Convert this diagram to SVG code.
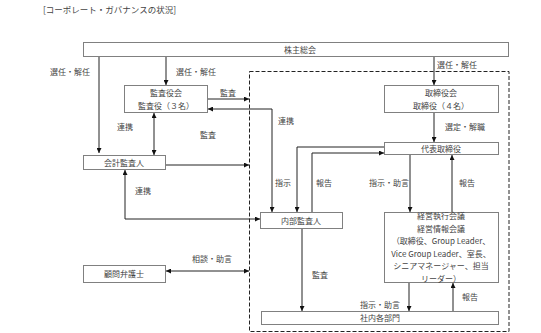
<svg xmlns="http://www.w3.org/2000/svg" width="541" height="333" viewBox="0 0 541 333">
<style>
text{font-family:"Noto Sans CJK JP","Liberation Sans",sans-serif;font-size:8px;fill:#444;}
.c{text-anchor:middle;}
.box{fill:#fff;stroke:#808080;stroke-width:1;}
.ln{fill:none;stroke:#222;stroke-width:1;}
.ea{marker-end:url(#ah);}
.sa{marker-start:url(#ahs);}
</style>
<defs>
<marker id="ah" viewBox="0 0 8 8" refX="8" refY="4" markerWidth="5" markerHeight="5" orient="auto" markerUnits="userSpaceOnUse"><path d="M0,0L8,4L0,8z" fill="#111"/></marker>
<marker id="ahs" viewBox="0 0 8 8" refX="0" refY="4" markerWidth="5" markerHeight="5" orient="auto" markerUnits="userSpaceOnUse"><path d="M8,0L0,4L8,8z" fill="#111"/></marker>
</defs>
<rect width="541" height="333" fill="#fff"/>
<text x="43" y="13" style="font-size:8.5px">[コーポレート・ガバナンスの状況]</text>

<rect x="249.5" y="71.5" width="259.5" height="260" fill="none" stroke="#222" stroke-width="1" stroke-dasharray="4,2"/>

<g id="connectors">
<path class="ln ea" d="M99,57V153"/>
<path class="ln ea" d="M166,57V85"/>
<path class="ln ea" d="M434,57V85"/>
<path class="ln ea" d="M434,113V142"/>
<path class="ln ea" d="M208,99H249"/>
<path class="ln ea sa" d="M208,109H272V212"/>
<path class="ln ea sa" d="M154,113V155"/>
<path class="ln ea" d="M166,165H249"/>
<path class="ln ea sa" d="M125,170V219H260"/>
<path class="ln ea" d="M384,147H297V212"/>
<path class="ln ea" d="M312,212V153H384"/>
<path class="ln ea" d="M410,155V212"/>
<path class="ln ea" d="M452,212V155"/>
<path class="ln ea sa" d="M166,271H249"/>
<path class="ln ea" d="M302,229V311"/>
<path class="ln ea" d="M409,283V311"/>
<path class="ln ea" d="M453,311V283"/>
</g>

<g id="labels">
<text x="50" y="75">選任・解任</text>
<text x="176" y="75">選任・解任</text>
<text x="437" y="68">選任・解任</text>
<text x="445" y="130">選定・解職</text>
<text x="220" y="96">監査</text>
<text x="278" y="124">連携</text>
<text x="117" y="130">連携</text>
<text x="200" y="138">監査</text>
<text x="135" y="194">連携</text>
<text x="275" y="186">指示</text>
<text x="316" y="186">報告</text>
<text x="369" y="186">指示・助言</text>
<text x="459" y="186">報告</text>
<text x="192" y="262">相談・助言</text>
<text x="312" y="278">監査</text>
<text x="360" y="308">指示・助言</text>
<text x="462" y="300">報告</text>
</g>

<g id="n-shareholders"><rect class="box" x="83.5" y="42.5" width="425" height="14"/><text class="c" x="300" y="52.5">株主総会</text></g>
<g id="n-kansayakukai"><rect class="box" x="124.5" y="85.5" width="83" height="27"/><text class="c" x="166" y="96">監査役会</text><text class="c" x="166" y="109">監査役（３名）</text></g>
<g id="n-torishimariyakukai"><rect class="box" x="384.5" y="85.5" width="114" height="27"/><text class="c" x="441" y="96">取締役会</text><text class="c" x="441" y="109">取締役（４名）</text></g>
<g id="n-daihyo"><rect class="box" x="384.5" y="142.5" width="114" height="12"/><text class="c" x="441" y="151.5">代表取締役</text></g>
<g id="n-kaikei"><rect class="box" x="83.5" y="155.5" width="82" height="14"/><text class="c" x="124" y="165.5">会計監査人</text></g>
<g id="n-naibu"><rect class="box" x="260.5" y="212.5" width="82" height="16"/><text class="c" x="301" y="223.5">内部監査人</text></g>
<g id="n-bengoshi"><rect class="box" x="83.5" y="265.5" width="82" height="17"/><text class="c" x="124" y="277">顧問弁護士</text></g>
<g id="n-keiei"><rect class="box" x="384.5" y="212.5" width="114" height="70"/>
<text class="c" x="441" y="219">経営執行会議</text>
<text class="c" x="441" y="231.5">経営情報会議</text>
<text class="c" x="441" y="244">（取締役、Group Leader、</text>
<text class="c" x="441" y="256.5">Vice Group Leader、室長、</text>
<text class="c" x="441" y="269">シニアマネージャー、担当</text>
<text class="c" x="441" y="281.5">リーダー）</text></g>
<g id="n-shanai"><rect class="box" x="261.5" y="311.5" width="237" height="13"/><text class="c" x="380" y="321">社内各部門</text></g>
</svg>
